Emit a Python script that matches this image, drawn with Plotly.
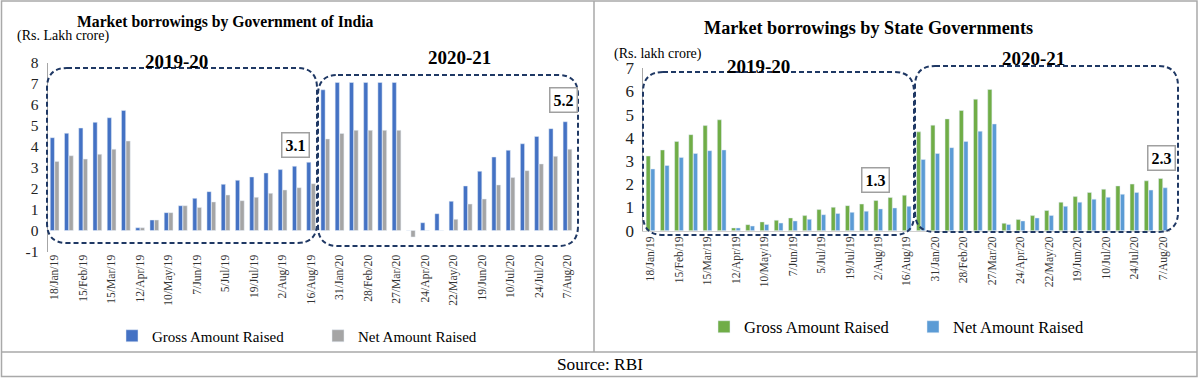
import plotly.graph_objects as go

# ---------------- data ----------------
dates = ["18/Jan/19", "1/Feb/19", "15/Feb/19", "1/Mar/19", "15/Mar/19", "29/Mar/19",
         "12/Apr/19", "26/Apr/19", "10/May/19", "24/May/19", "7/Jun/19", "21/Jun/19",
         "5/Jul/19", "12/Jul/19", "19/Jul/19", "26/Jul/19", "2/Aug/19", "9/Aug/19", "16/Aug/19",
         "17/Jan/20", "31/Jan/20", "14/Feb/20", "28/Feb/20", "13/Mar/20", "27/Mar/20",
         "10/Apr/20", "24/Apr/20", "8/May/20", "22/May/20", "5/Jun/20", "19/Jun/20",
         "3/Jul/20", "10/Jul/20", "17/Jul/20", "24/Jul/20", "31/Jul/20", "7/Aug/20"]
tick_labels = dates[::2]

goi_gross = [4.42, 4.63, 4.88, 5.15, 5.37, 5.72, 0.13, 0.50, 0.85, 1.18, 1.53, 1.85, 2.20,
             2.39, 2.55, 2.74, 2.90, 3.06, 3.25,
             6.70, 7.05, 7.05, 7.05, 7.05, 7.05, 0.0, 0.37, 0.80, 1.39, 2.12, 2.82, 3.50,
             3.82, 4.13, 4.48, 4.85, 5.18]
goi_net = [3.29, 3.56, 3.40, 3.63, 3.87, 4.26, 0.13, 0.50, 0.85, 1.18, 1.10, 1.36, 1.69,
           1.42, 1.58, 1.77, 1.93, 2.04, 2.23,
           4.36, 4.62, 4.77, 4.77, 4.77, 4.77, -0.31, 0.0, 0.0, 0.53, 1.26, 1.50, 2.17,
           2.52, 2.85, 3.17, 3.53, 3.87]

sg_gross = [3.22, 3.48, 3.85, 4.14, 4.53, 4.78, 0.12, 0.26, 0.38, 0.45, 0.55, 0.65, 0.91,
            1.01, 1.08, 1.15, 1.30, 1.43, 1.53,
            4.26, 4.55, 4.82, 5.18, 5.67, 6.09, 0.32, 0.48, 0.65, 0.87, 1.23, 1.47, 1.65,
            1.79, 1.93, 2.01, 2.15, 2.25]
sg_net = [2.66, 2.81, 3.16, 3.33, 3.45, 3.48, 0.12, 0.20, 0.27, 0.33, 0.42, 0.49, 0.69,
          0.74, 0.79, 0.84, 0.94, 0.98, 1.05,
          3.07, 3.33, 3.58, 3.85, 4.29, 4.60, 0.27, 0.42, 0.55, 0.66, 1.05, 1.23, 1.36,
          1.44, 1.57, 1.65, 1.75, 1.85]

series_names = ["Gross Amount Raised", "Net Amount Raised"]
goi_ticks = [-1, 0, 1, 2, 3, 4, 5, 6, 7, 8]
goi_ticktext = ["-1", "0", "1", "2", "3", "4", "5", "6", "7", "8"]
sg_ticks = [0, 1, 2, 3, 4, 5, 6, 7]
latest_goi = "5.2"
prev_goi = "3.1"
latest_sg = "2.3"
prev_sg = "1.3"

# ---------------- layout helpers ----------------
W, H = 1200, 378
SERIF = "Liberation Serif"
NAVY = "#1f3864"
FRAME = "#a9a9a9"


def px(x):
    return x / W


def py(y):
    return 1 - y / H


def rounded_box(x0, y0, x1, y1, r):
    pts = [
        ("M", [(x0 + r, y0)]), ("L", [(x1 - r, y0)]), ("Q", [(x1, y0), (x1, y0 + r)]),
        ("L", [(x1, y1 - r)]), ("Q", [(x1, y1), (x1 - r, y1)]),
        ("L", [(x0 + r, y1)]), ("Q", [(x0, y1), (x0, y1 - r)]),
        ("L", [(x0, y0 + r)]), ("Q", [(x0, y0), (x0 + r, y0)]),
    ]
    s = ""
    for cmd, ps in pts:
        s += cmd + " ".join(f"{px(a):.5f},{py(b):.5f}" for a, b in ps) + " "
    return s + "Z"


fig = go.Figure()

fig.add_trace(go.Bar(x=dates, y=goi_gross, name=series_names[0], marker_color="#4472c4",
                     xaxis="x", yaxis="y", legend="legend"))
fig.add_trace(go.Bar(x=dates, y=goi_net, name=series_names[1], marker_color="#a5a5a5",
                     xaxis="x", yaxis="y", legend="legend"))
fig.add_trace(go.Bar(x=dates, y=sg_gross, name=series_names[0], marker_color="#70ad47",
                     xaxis="x2", yaxis="y2", legend="legend2"))
fig.add_trace(go.Bar(x=dates, y=sg_net, name=series_names[1], marker_color="#5b9bd5",
                     xaxis="x2", yaxis="y2", legend="legend2"))

xcommon = dict(type="category", categoryorder="array", categoryarray=dates,
               tickmode="array", tickvals=tick_labels, ticktext=tick_labels,
               tickangle=-90, ticks="", showgrid=False, zeroline=False, automargin=False,
               tickfont=dict(family=SERIF, size=11.6, color="#333333"))
ycommon = dict(showgrid=False, zeroline=False, ticks="", showline=True, automargin=False,
               linecolor="#a6a6a6", linewidth=1, tickmode="array")

shapes = []
# frame
shapes.append(dict(type="rect", xref="paper", yref="paper", x0=px(1.5), x1=px(1197),
                   y0=py(376.5), y1=py(1), line=dict(color=FRAME, width=1.5)))
shapes.append(dict(type="line", xref="paper", yref="paper", x0=px(594), x1=px(594),
                   y0=py(352), y1=py(1), line=dict(color=FRAME, width=1.5)))
shapes.append(dict(type="line", xref="paper", yref="paper", x0=px(1.5), x1=px(1197),
                   y0=py(352), y1=py(352), line=dict(color=FRAME, width=1.5)))
# dashed period boxes
for (a, b, c, d) in [(47, 68, 317, 243), (318, 75, 578, 246),
                     (643, 72, 914, 235), (915, 66, 1178, 232)]:
    shapes.append(dict(type="path", xref="paper", yref="paper",
                       path=rounded_box(a, b, c, d, 20),
                       line=dict(color=NAVY, width=2, dash="5px,3px")))

ann = []


def text(x, y, t, size, bold=False, **kw):
    ann.append(dict(x=px(x), y=py(y), xref="paper", yref="paper", showarrow=False,
                    text=f"<b>{t}</b>" if bold else t, xanchor="center", yanchor="middle",
                    font=dict(family=SERIF, size=size, color="#000000"), **kw))


text(225, 22, "Market borrowings by Government of India", 15.7, True)
text(868, 28, "Market borrowings by State Governments", 18.2, True)
text(63, 36, "(Rs. Lakh crore)", 14)
text(658, 54, "(Rs. lakh crore)", 14)
text(176, 62, "2019-20", 19, True)
text(459, 57, "2020-21", 19, True)
text(759, 66, "2019-20", 19, True)
text(1033, 58, "2020-21", 19, True)
for (x, y, t) in [(295, 145, prev_goi), (563.5, 99.5, latest_goi),
                  (875.5, 179.5, prev_sg), (1161, 157.5, latest_sg)]:
    text(x, y, t, 16, True, bordercolor="#a0a0a0", borderwidth=1.5, borderpad=3,
         bgcolor="#ffffff")
text(600, 364, "Source: RBI", 17.3)

fig.update_layout(
    width=W, height=H, margin=dict(l=0, r=0, t=0, b=0, autoexpand=False),
    paper_bgcolor="#ffffff", plot_bgcolor="#ffffff",
    barmode="group", bargap=0.36, bargroupgap=0.08,
    xaxis=dict(domain=[px(47.5), px(574.6)], anchor="y", showline=False, **xcommon),
    yaxis=dict(domain=[py(251.5), py(62.5)], anchor="x", range=[-1, 8],
               tickvals=goi_ticks, ticktext=goi_ticktext,
               tickfont=dict(family=SERIF, size=15.5, color="#222222"),
               ticklabelstandoff=5, **ycommon),
    xaxis2=dict(domain=[px(643.4), px(1170)], anchor="y2", showline=True,
                linecolor="#d0d0d0", **xcommon),
    yaxis2=dict(domain=[py(230.7), py(68.3)], anchor="x2", range=[0, 7],
                tickvals=sg_ticks,
                tickfont=dict(family=SERIF, size=17, color="#222222"),
                ticklabelstandoff=5, **ycommon),
    legend=dict(orientation="h", x=px(112), y=py(336), xanchor="left", yanchor="middle",
                font=dict(family=SERIF, size=15, color="#000000"),
                entrywidth=161, bgcolor="rgba(0,0,0,0)"),
    legend2=dict(orientation="h", x=px(704), y=py(327), xanchor="left", yanchor="middle",
                 font=dict(family=SERIF, size=16.5, color="#000000"),
                 entrywidth=164, bgcolor="rgba(0,0,0,0)"),
    shapes=shapes, annotations=ann, showlegend=True,
)

fig.write_html("out.html", config={"displayModeBar": False},
               post_script="document.body.style.margin='0px';"
                           "document.body.style.overflow='hidden';")
